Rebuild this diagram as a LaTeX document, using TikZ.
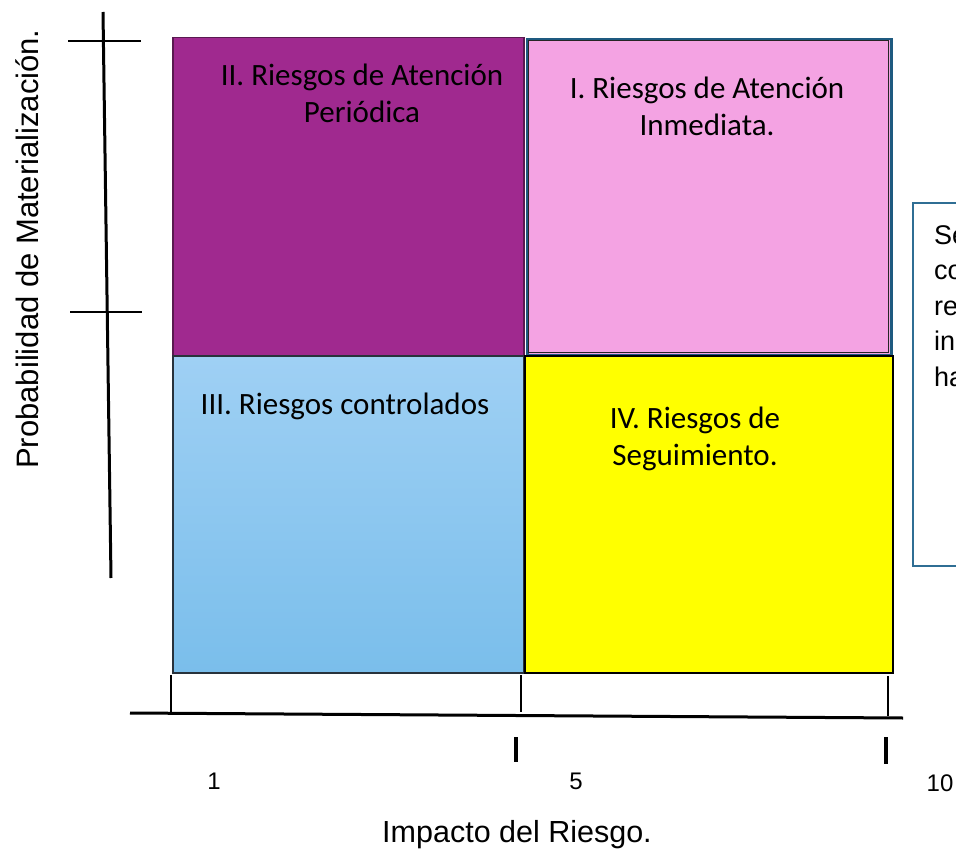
\documentclass[tikz,border=0pt]{standalone}
\usepackage{fontspec}
\setmainfont{Carlito}
\newfontfamily\arialf{Liberation Sans}
\begin{document}
\begin{tikzpicture}[x=1pt,y=-1pt,
  quad/.style={draw, line width=1.5pt, minimum width=#1, anchor=north west, inner sep=0pt},
  quadtext/.style={font=\fontsize{31}{37}\selectfont, align=center, text=black, inner sep=0pt},
  axisline/.style={line width=3pt, black},
  tickline/.style={line width=2.6pt, black},
  numlabel/.style={font=\arialf\fontsize{24}{26}\selectfont, inner sep=0pt}]
\useasboundingbox (0,0) rectangle (956,853);
\fill[white] (0,0) rectangle (956,853);
% quadrants
\node[quad=351pt, minimum height=318pt, fill={rgb,255:red,160;green,41;blue,143}, draw={rgb,255:red,90;green,25;blue,80}] (q2) at (172,37) {};
\node[quad=364pt, minimum height=316pt, fill={rgb,255:red,244;green,163;blue,227}, draw={rgb,255:red,30;green,90;blue,128}, line width=2.5pt] (q1o) at (526,38) {};
\node[quad=360pt, minimum height=312pt, draw=black!85, line width=1.2pt] (q1) at (528,40) {};
\node[quad=351pt, minimum height=317pt, top color={rgb,255:red,159;green,208;blue,244}, bottom color={rgb,255:red,122;green,190;blue,235}, draw={rgb,255:red,40;green,50;blue,60}] (q3) at (172,355) {};
\node[quad=368pt, minimum height=317pt, fill={rgb,255:red,255;green,255;blue,0}, draw=black] (q4) at (524,355) {};
% quadrant texts
\node[quadtext] (t2) at (362,93) {II. Riesgos de Atención\\Periódica};
\node[quadtext] (t1) at (707,106) {I. Riesgos de Atención\\Inmediata.};
\node[quadtext] (t3) at (345,406) {III. Riesgos controlados};
\node[quadtext] (t4) at (695,439) {IV. Riesgos de\\Seguimiento.};
% side box (cut by the page edge)
\node[draw={rgb,255:red,47;green,110;blue,148}, line width=1.6pt, minimum width=100pt, minimum height=363pt, anchor=north west, inner sep=0pt] (side) at (912,202) {};
\node[font=\arialf\fontsize{27}{35.5}\selectfont, align=left, anchor=north west, inner sep=0pt] (sidetext) at (934,225) {Se\\co\\re\\in\\ha};
% vertical axis
\coordinate (vtop) at (103,12);
\coordinate (vbot) at (111,578);
\draw[axisline] (vtop) -- (vbot);
\coordinate (h1a) at (68,41); \coordinate (h1b) at (141,41);
\coordinate (h2a) at (70,312); \coordinate (h2b) at (142,312);
\draw[tickline] (h1a) -- (h1b);
\draw[tickline] (h2a) -- (h2b);
\node[font=\arialf\fontsize{31}{34}\selectfont, rotate=90, inner sep=0pt] (ylab) at (27,249) {Probabilidad de Materialización.};
% horizontal axis
\coordinate (hl) at (130,713);
\coordinate (hr) at (903,718);
\draw[axisline] (hl) -- (hr);
\coordinate (ta1) at (171,675); \coordinate (tb1) at (171,714);
\coordinate (ta2) at (521,675); \coordinate (tb2) at (521,712);
\coordinate (ta3) at (888,676); \coordinate (tb3) at (888,716);
\draw[tickline] (ta1) -- (tb1);
\draw[tickline] (ta2) -- (tb2);
\draw[tickline] (ta3) -- (tb3);
\coordinate (la2) at (516,737); \coordinate (lb2) at (516,762);
\coordinate (la3) at (886,737); \coordinate (lb3) at (886,764);
\draw[line width=3.2pt] (la2) -- (lb2);
\draw[line width=3.2pt] (la3) -- (lb3);
\node[numlabel] (n1) at (214,781) {1};
\node[numlabel] (n5) at (576,781) {5};
\node[numlabel] (n10) at (940,783) {10};
\node[font=\arialf\fontsize{30.5}{33}\selectfont, inner sep=0pt] (xlab) at (517,835) {Impacto del Riesgo.};
\end{tikzpicture}
\end{document}
